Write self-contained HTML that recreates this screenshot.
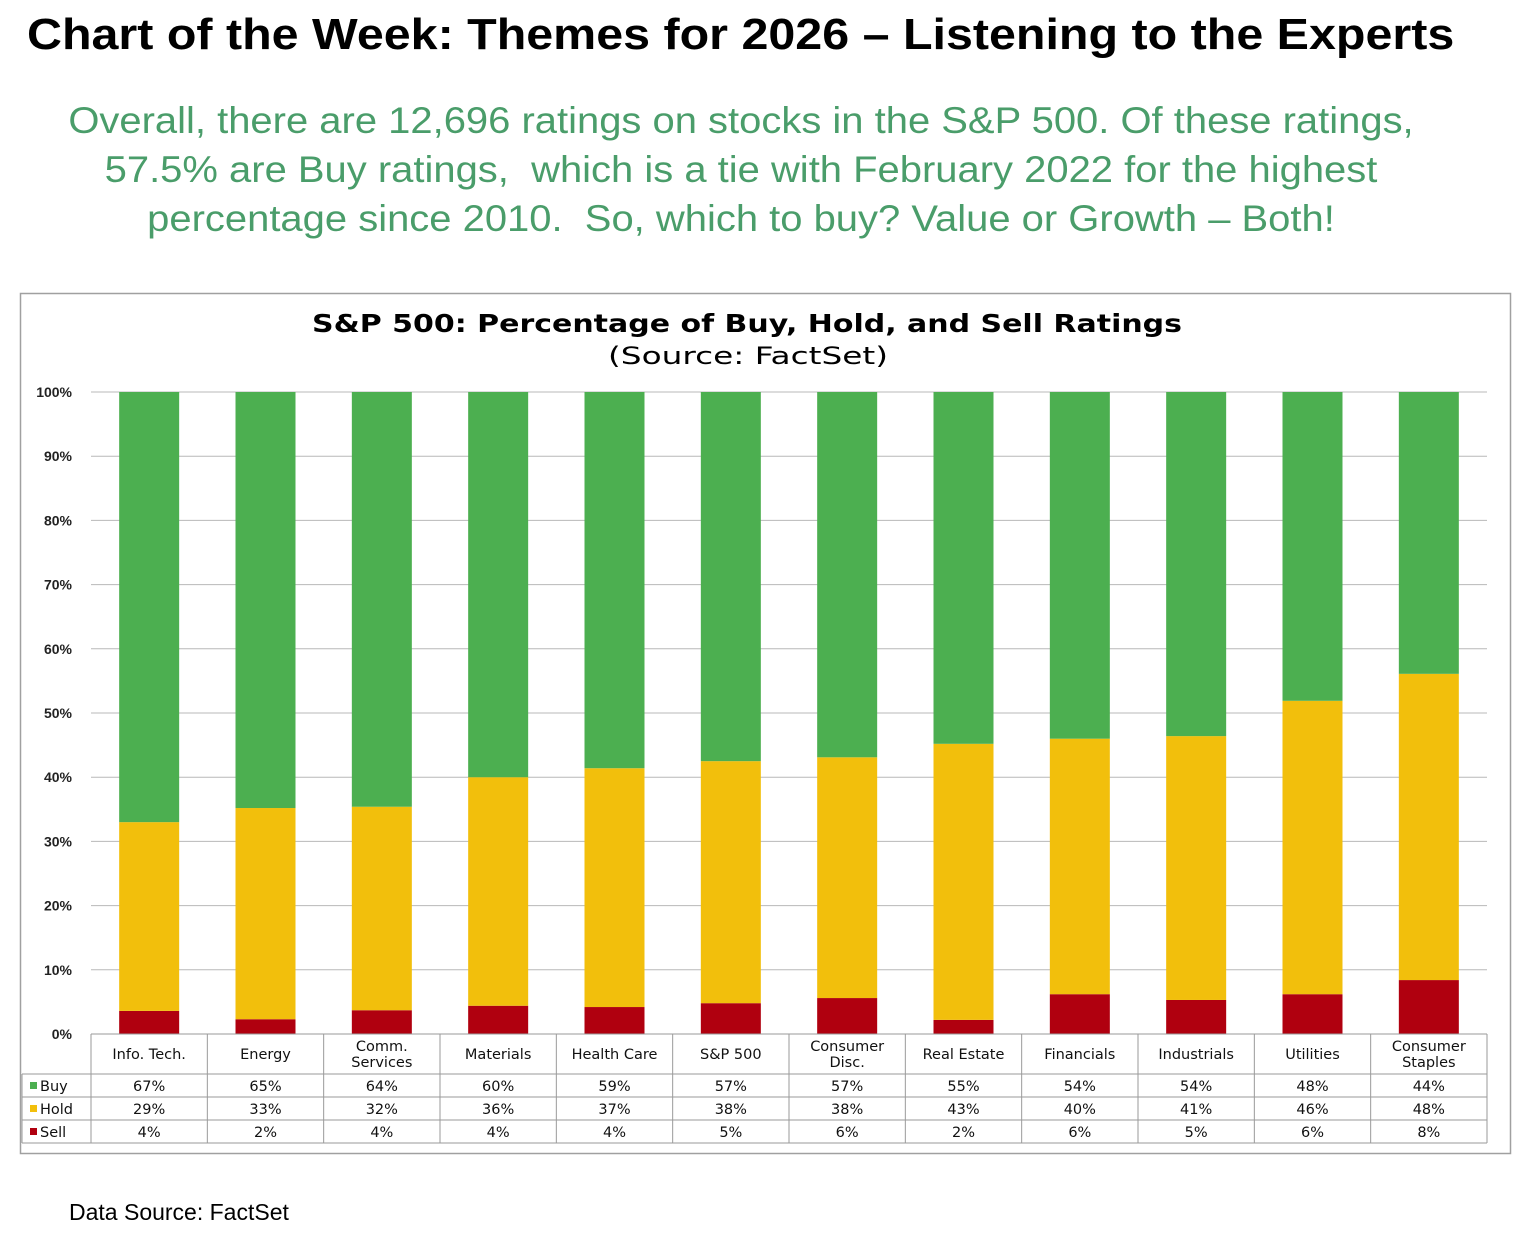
<!DOCTYPE html>
<html><head><meta charset="utf-8"><style>
body{margin:0;width:1530px;height:1234px;background:#fff;font-family:"Liberation Sans",Arial,sans-serif;position:relative;overflow:hidden}
.abs{position:absolute}
</style></head><body>
<div class="abs" style="left:27px;top:10px;font-size:44px;font-weight:bold;color:#000;white-space:nowrap;transform:scaleX(1.1);transform-origin:0 0">Chart of the Week: Themes for 2026 – Listening to the Experts</div>
<div class="abs" style="left:-380px;width:2242px;top:96px;font-size:37px;line-height:49px;color:#4a9d6a;text-align:center;transform:scaleX(1.08);transform-origin:1121px 0">Overall, there are 12,696 ratings on stocks in the S&amp;P 500. Of these ratings,<br>57.5% are Buy ratings,&nbsp; which is a tie with February 2022 for the highest<br>percentage since 2010.&nbsp; So, which to buy? Value or Growth – Both!</div>
<svg class="abs" style="left:0;top:0" width="1530" height="1234" id="svg" xmlns="http://www.w3.org/2000/svg">
<rect x="20.5" y="293.5" width="1490" height="860" fill="#fff" stroke="#a0a0a0" stroke-width="1.5"/>
<text x="312" y="332" textLength="870" lengthAdjust="spacingAndGlyphs" font-size="25" font-weight="bold" font-family="DejaVu Sans, sans-serif">S&amp;P 500: Percentage of Buy, Hold, and Sell Ratings</text>
<text x="608" y="364" textLength="280" lengthAdjust="spacingAndGlyphs" font-size="24" font-family="DejaVu Sans, sans-serif">(Source: FactSet)</text>
</svg>
<div class="abs" style="left:69px;top:1199px;font-size:23px;color:#000">Data Source: FactSet</div>
<script>
const categories=[["Info. Tech."],["Energy"],["Comm.","Services"],["Materials"],["Health Care"],["S&P 500"],["Consumer","Disc."],["Real Estate"],["Financials"],["Industrials"],["Utilities"],["Consumer","Staples"]];
const sellVals=[3.6,2.3,3.7,4.4,4.2,4.8,5.6,2.2,6.2,5.3,6.2,8.4];
const holdVals=[29.4,32.9,31.7,35.6,37.2,37.7,37.5,43.0,39.8,41.1,45.7,47.7];
const buyVals=[67.0,64.8,64.6,60.0,58.6,57.5,56.9,54.8,54.0,53.6,48.1,43.9];
const buyLabels=["67%","65%","64%","60%","59%","57%","57%","55%","54%","54%","48%","44%"];
const holdLabels=["29%","33%","32%","36%","37%","38%","38%","43%","40%","41%","46%","48%"];
const sellLabels=["4%","2%","4%","4%","4%","5%","6%","2%","6%","5%","6%","8%"];
const yTicks=[0,10,20,30,40,50,60,70,80,90,100];
const svg=document.getElementById('svg');const NS='http://www.w3.org/2000/svg';
const x0=91,x1=1487,colW=(x1-x0)/categories.length,y0=1034,y100=392;
const y=v=>y0-(y0-y100)*v/100;
const xc=i=>x0+colW*(i+0.5);
function mk(t,a){const e=document.createElementNS(NS,t);for(const k in a)e.setAttribute(k,a[k]);svg.appendChild(e);return e;}
const F="Liberation Sans, Arial, sans-serif";
const D="DejaVu Sans, sans-serif";
yTicks.forEach(t=>{
 const l=mk('line',{x1:x0,x2:x1,y1:y(t),y2:y(t),stroke:'#b8b8b8','stroke-width':1});
 
 
 const tx=mk('text',{x:72,y:y(t)+5,'text-anchor':'end','font-size':14,'font-weight':'bold','font-family':F,fill:'#222'});
 tx.textContent=t+'%';
 
 
});
const bw=60;
categories.forEach((c,i)=>{
 const segs=[[0,sellVals[i],'#b0000f','sell'],[sellVals[i],sellVals[i]+holdVals[i],'#f2bf0c','hold'],[sellVals[i]+holdVals[i],sellVals[i]+holdVals[i]+buyVals[i],'#4caf50','buy']];
 segs.forEach(s=>{
  const r=mk('rect',{x:xc(i)-bw/2,y:y(s[1]),width:bw,height:y(s[0])-y(s[1]),fill:s[2]});
  
  
 });
});
const rows=[y0,1074,1097,1120,1143];
rows.forEach(ry=>{const l=mk('line',{x1:ry===y0?x0:22,x2:x1,y1:ry,y2:ry,stroke:'#9a9a9a','stroke-width':1});
 
 });
for(let i=0;i<=categories.length;i++){const l=mk('line',{x1:x0+colW*i,x2:x0+colW*i,y1:y0,y2:1143,stroke:'#9a9a9a','stroke-width':1});
 
 }
const lv=mk('line',{x1:22,x2:22,y1:1074,y2:1143,stroke:'#9a9a9a','stroke-width':1});


categories.forEach((c,i)=>{
 c.forEach((ln,j)=>{const t=mk('text',{x:xc(i),y:(c.length===1?1059:1051+j*16),'text-anchor':'middle','font-size':14.5,'font-family':D,fill:'#111'});
  t.textContent=ln;
  
  });
 [[buyLabels,1091],[holdLabels,1114],[sellLabels,1137]].forEach(p=>{const t=mk('text',{x:xc(i),y:p[1],'text-anchor':'middle','font-size':14.5,'font-family':D,fill:'#111'});
  t.textContent=p[0][i];
  
  });
});
[['Buy','#4caf50',1091],['Hold','#f2bf0c',1114],['Sell','#b0000f',1137]].forEach(l=>{
 const r=mk('rect',{x:30,y:l[2]-9,width:7,height:7,fill:l[1]});
 
 
 const t=mk('text',{x:40,y:l[2],'font-size':14.5,'font-family':D,fill:'#111'});
 t.textContent=l[0];
 
 
});
</script>
</body></html>
